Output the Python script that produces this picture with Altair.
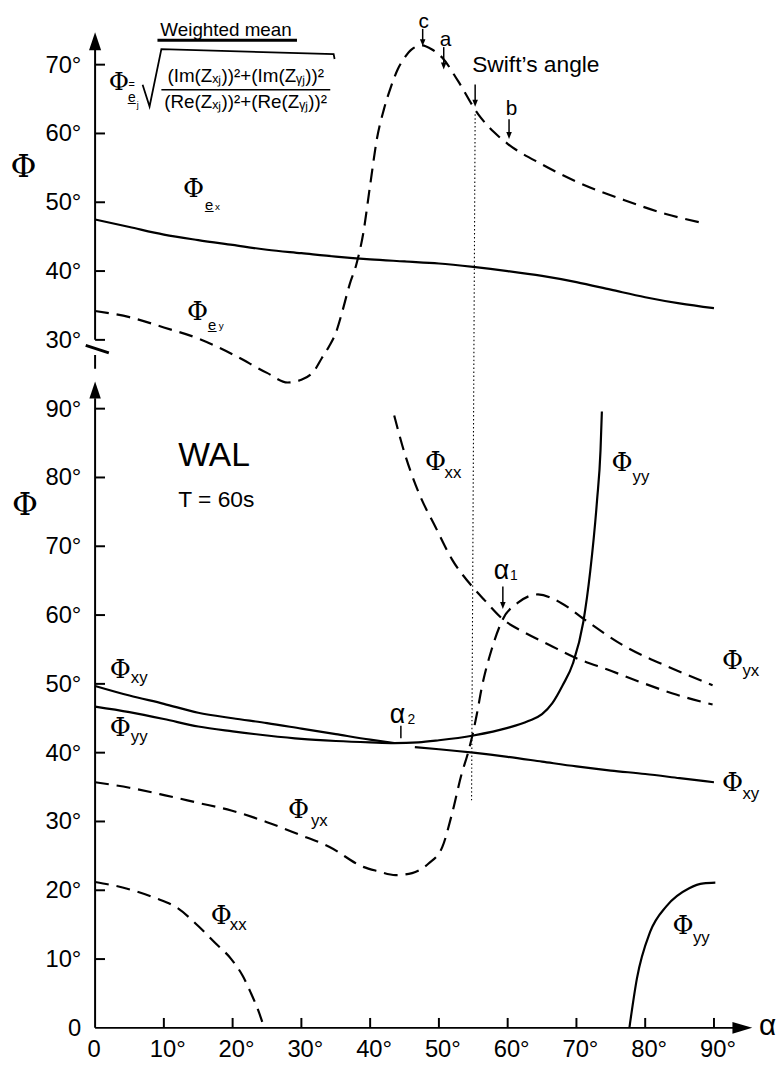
import altair as alt
import pandas as pd

UPPER_SHIFT = 70.0  # upper panel drawn 70 units above the lower one (same degree scale)

# ---------------- curves: alpha (deg) -> Phi (deg) ----------------
# upper panel
PHI_EX_A = [0, 5, 10, 15, 20, 25, 30, 35, 40, 45, 50, 55, 60, 65, 70, 75, 80, 85, 90]
PHI_EX_V = [47.5, 46.4, 45.3, 44.5, 43.8, 43.1, 42.6, 42.1, 41.7, 41.4, 41.1, 40.6,
            40.0, 39.3, 38.4, 37.3, 36.2, 35.3, 34.6]

PHI_EY_A = [0, 5, 10, 15, 20, 25, 28, 30, 32, 33, 34, 35, 36, 37, 38, 39, 40, 41, 42,
            43, 44, 45, 46, 47.5, 49, 50.5, 52.8, 55.7, 58, 60, 65, 70, 77, 83, 88.3]
PHI_EY_V = [34.2, 33.3, 31.8, 30.2, 27.9, 25.2, 23.8, 24.2, 25.7, 27.4, 29.0, 31.0, 34.3,
            38.0, 41.0, 45.5, 52.5, 59.3, 63.5, 66.7, 69.3, 71.0, 72.2, 72.8, 72.2, 71.0,
            67.6, 62.8, 60.2, 58.5, 55.5, 53.0, 50.3, 48.3, 47.0]

# lower panel
PHI_XY_L_A = [0, 5, 10, 15, 20, 25, 30, 35, 40, 43.5]
PHI_XY_L_V = [49.7, 48.3, 47.1, 45.8, 45.0, 44.3, 43.5, 42.7, 41.9, 41.4]

PHI_XY_R_A = [46.5, 50, 55, 60, 65, 70, 75, 80, 85, 90]
PHI_XY_R_V = [40.8, 40.5, 40.0, 39.4, 38.7, 38.0, 37.4, 36.9, 36.3, 35.7]

PHI_YY_A = [0, 5, 10, 15, 20, 25, 30, 35, 40, 43.5, 47, 50, 55, 60, 63, 65, 66.5, 68,
            69.5, 71, 72, 73, 73.5, 73.7]
PHI_YY_V = [46.7, 45.9, 44.9, 43.8, 43.1, 42.5, 42.0, 41.7, 41.5, 41.4, 41.5, 41.8, 42.5,
            43.6, 44.6, 45.6, 47.2, 49.8, 53.0, 59.0, 66.3, 76.7, 83.9, 89.6]

PHI_YY_B_A = [77.7, 78.8, 80.7, 83.1, 86.4, 88.5, 90.2]
PHI_YY_B_V = [0.0, 7.2, 13.9, 17.7, 20.3, 21.0, 21.1]

PHI_XX_T_A = [43.5, 44.9, 47.1, 49.5, 51.9, 54.8, 56.7, 59.3, 62.4, 66, 69.6, 75, 79.2, 84, 89.8]
PHI_XX_T_V = [89.0, 83.9, 77.7, 72.8, 68.1, 64.2, 62.1, 59.4, 57.5, 55.7, 53.9, 51.9, 50.3, 48.6, 47.0]

PHI_YX_A = [0, 5, 10.2, 15, 19.8, 25, 29.4, 34.1, 39, 41, 43.7, 46.1, 48.5, 50.5, 51.9,
            53.3, 54.3, 55.5, 56.2, 57.7, 59.3, 61.5, 64.4, 67.7, 71.1, 76.8, 84, 89.8]
PHI_YX_V = [35.7, 34.9, 33.8, 32.7, 31.6, 29.9, 28.2, 26.3, 23.4, 22.8, 22.2, 22.5, 23.9,
            26.3, 31.1, 36.9, 40.2, 45.5, 49.3, 55.1, 59.4, 61.8, 63.0, 61.8, 59.4, 55.6,
            52.2, 49.8]

PHI_XX_B_A = [0, 4, 8.7, 12, 15, 17.4, 19.8, 21.5, 22.6, 23.7, 24.6]
PHI_XX_B_V = [21.2, 20.4, 18.9, 17.4, 14.8, 12.4, 10.0, 7.5, 5.2, 2.6, 0.0]

SWIFT_ANGLE = 55.0

# ---------------- ticks ----------------
X_TICKS = [0, 10, 20, 30, 40, 50, 60, 70, 80, 90]
X_TICK_LABELS = ["0", "10°", "20°", "30°", "40°", "50°", "60°", "70°", "80°", "90°"]
Y_TICKS_LOWER = [0, 10, 20, 30, 40, 50, 60, 70, 80, 90]
Y_TICK_LABELS_LOWER = ["0", "10°", "20°", "30°", "40°", "50°", "60°", "70°", "80°", "90°"]
Y_TICKS_UPPER = [30, 40, 50, 60, 70]
Y_TICK_LABELS_UPPER = ["30°", "40°", "50°", "60°", "70°"]

NUM = "(Im(Zₓⱼ))²+(Im(Zᵧⱼ))²"
DEN = "(Re(Zₓⱼ))²+(Re(Zᵧⱼ))²"

# ---------------- build tables ----------------
curve_rows = []
def add_curve(name, a_list, v_list, panel, style):
    for a, v in zip(a_list, v_list):
        curve_rows.append({"series": name, "a": a, "v": v, "panel": panel, "style": style})

add_curve("ex", PHI_EX_A, PHI_EX_V, "upper", "solid")
add_curve("ey", PHI_EY_A, PHI_EY_V, "upper", "dashed")
add_curve("xyL", PHI_XY_L_A, PHI_XY_L_V, "lower", "solid")
add_curve("xyR", PHI_XY_R_A, PHI_XY_R_V, "lower", "solid")
add_curve("yy", PHI_YY_A, PHI_YY_V, "lower", "solid")
add_curve("yyB", PHI_YY_B_A, PHI_YY_B_V, "lower", "solid")
add_curve("xxT", PHI_XX_T_A, PHI_XX_T_V, "lower", "dashed")
add_curve("yx", PHI_YX_A, PHI_YX_V, "lower", "dashed")
add_curve("xxB", PHI_XX_B_A, PHI_XX_B_V, "lower", "dashed")
curves = pd.DataFrame(curve_rows)

XS = alt.Scale(domain=[0, 96], nice=False, zero=False)
YS = alt.Scale(domain=[0, 145], nice=False, zero=False)

def xy(xf="x", yf="y"):
    return dict(x=alt.X(f"{xf}:Q", scale=XS, axis=None), y=alt.Y(f"{yf}:Q", scale=YS, axis=None))

base = alt.Chart(curves).transform_calculate(
    y=f"datum.panel == 'upper' ? datum.v + {UPPER_SHIFT} : datum.v"
)
solid = base.transform_filter("datum.style == 'solid'").mark_line(
    color="black", strokeWidth=2.2, interpolate="monotone"
).encode(**xy("a", "y"), detail="series:N")
dashed = base.transform_filter("datum.style == 'dashed'").mark_line(
    color="black", strokeWidth=2.2, interpolate="monotone", strokeDash=[14, 8]
).encode(**xy("a", "y"), detail="series:N")

# axis lines, ticks, annotation strokes
U = UPPER_SHIFT
rules = []
def rule(x, y, x2, y2, w):
    rules.append({"x": x, "y": y, "x2": x2, "y2": y2, "w": w})

rule(0, 0, 93.0, 0, 2)
rule(0, 0, 0, 91.5, 2)
rule(0, 30 + U, 0, 142.2, 2)
rule(0, 95.8, 0, 97.8, 2)
rule(-1.36, 99.2, 2.0, 98.1, 3)
for t in Y_TICKS_LOWER[1:]:
    rule(0, t, 1.44, t, 2)
for t in Y_TICKS_UPPER:
    rule(0, t + U, 1.44, t + U, 2)
for t in X_TICKS[1:]:
    rule(t, 0, t, 1.44, 2)
# small arrows (c, a, Swift, b, alpha1)
ARROWS = [(47.64, 145.2, 143.4), (50.7, 142.55, 140.0), (55.27, 137.1, 134.6),
          (60.2, 132.05, 129.9), (59.3, 64.15, 61.6)]
for ax, y1, y2 in ARROWS:
    rule(ax, y1, ax, y2, 1.5)
rule(44.47, 43.9, 44.47, 42.1, 1.5)           # alpha2 marker
rule(9.07, 143.56, 29.36, 143.56, 3)          # underline of "Weighted mean"
rule(9.64, 136.36, 34.2, 136.36, 1.5)         # fraction bar
rules_df = pd.DataFrame(rules)

rule_layer = alt.Chart(rules_df).mark_rule(color="black", strokeCap="butt").encode(
    **xy(), x2="x2:Q", y2="y2:Q", size=alt.Size("w:Q", scale=None)
)

swift_df = pd.DataFrame([{"x": SWIFT_ANGLE + 0.27, "y": 132.8, "x2": SWIFT_ANGLE - 0.25, "y2": 33.1}])
swift_layer = alt.Chart(swift_df).mark_rule(color="black", strokeWidth=1.1, strokeDash=[1.5, 2.5]).encode(
    **xy(), x2="x2:Q", y2="y2:Q"
)

# radical sign of the formula
rad_df = pd.DataFrame({"x": [6.91, 7.92, 9.64, 34.69, 34.83],
                       "y": [137.08, 133.92, 142.26, 141.54, 140.82]})
rad_layer = alt.Chart(rad_df).mark_line(color="black", strokeWidth=1.8).encode(**xy())

# arrow heads
UP = "M -0.68 1 L 0 -1 L 0.68 1 Z"
RIGHT = "M -1 -0.6 L 1 0 L -1 0.6 Z"
DOWN = "M -0.8 -1 L 0.8 -1 L 0 1 Z"
heads = [{"x": 94.13, "y": 0, "shape": RIGHT, "s": 400},
         {"x": 0, "y": 92.71, "shape": UP, "s": 289},
         {"x": 0, "y": 143.4, "shape": UP, "s": 324}]
for ax, y1, y2 in ARROWS:
    heads.append({"x": ax, "y": y2 - 0.2, "shape": DOWN, "s": 49})
heads_layer = alt.Chart(pd.DataFrame(heads)).mark_point(
    filled=True, color="black", opacity=1, strokeWidth=0
).encode(**xy(), shape=alt.Shape("shape:N", scale=None), size=alt.Size("s:Q", scale=None))

# ---------------- texts ----------------
SANS = "Liberation Sans"
SERIF = "DejaVu Serif"

def text_layer(records, font, align, dx=0, dy=0):
    df = pd.DataFrame(records, columns=["t", "x", "y", "s"])
    return alt.Chart(df).mark_text(font=font, align=align, baseline="middle", color="black",
                                   dx=dx, dy=dy).encode(
        **xy(), text="t:N", size=alt.Size("s:Q", scale=None)
    )

ytick_recs = [(l, -2.0, v, 24) for v, l in zip(Y_TICKS_LOWER, Y_TICK_LABELS_LOWER)]
ytick_recs += [(l, -2.0, v + U, 24) for v, l in zip(Y_TICKS_UPPER, Y_TICK_LABELS_UPPER)]
xtick0 = [(l, v, -3.0, 24) for v, l in zip(X_TICKS, X_TICK_LABELS) if l == "0"]
xtickd = [(l, v, -3.0, 24) for v, l in zip(X_TICKS, X_TICK_LABELS) if l != "0"]

sans_center = [
    ("Weighted mean", 19.04, 145.0, 19),
    ("c", 47.78, 146.2, 21),
    ("a", 50.95, 143.6, 21),
    ("b", 60.55, 133.6, 21),
    (NUM, 21.9, 138.38, 19),
    (DEN, 21.9, 134.57, 19),
    ("=", 5.33, 137.08, 11),
    ("e̲", 5.33, 135.21, 14),
    ("j", 6.19, 134.2, 9),
    ("α", 59.11, 66.36, 27),
    ("1", 60.9, 65.7, 14),
    ("α", 43.97, 45.53, 27),
    ("2", 46.0, 44.8, 14),
    ("α", 97.8, 0.3, 30),
]
SUB_SHIFT = 0.3
sans_left = [
    ("WAL", 12.09, 83.14, 34),
    ("T = 60s", 12.09, 76.67, 23),
    ("Swift’s angle", 54.84, 139.96, 23),
    ("e̲", 15.69 + SUB_SHIFT, 119.61, 15), ("x", 17.13 + SUB_SHIFT, 119.3, 10),
    ("e̲", 16.12 + SUB_SHIFT, 102.20, 15), ("y", 17.70 + SUB_SHIFT, 102.0, 10),
    ("xx", 50.52 + SUB_SHIFT, 80.62, 17),
    ("yy", 77.86 + SUB_SHIFT, 80.12, 17),
    ("yx", 93.84 + SUB_SHIFT, 51.86, 17),
    ("xy", 4.89 + SUB_SHIFT, 50.78, 17),
    ("yy", 4.89 + SUB_SHIFT, 42.22, 17),
    ("yx", 31.09 + SUB_SHIFT, 30.06, 17),
    ("xx", 19.29 + SUB_SHIFT, 14.96, 17),
    ("xy", 93.84 + SUB_SHIFT, 34.02, 17),
    ("yy", 86.64 + SUB_SHIFT, 13.02, 17),
]
phi_center = [
    ("Φ", -10.4, 125.1, 32),
    ("Φ", -10.2, 75.95, 32),
    ("Φ", 3.45, 137.51, 25),
    ("Φ", 14.32, 121.91, 26),
    ("Φ", 14.90, 104.07, 26),
    ("Φ", 49.51, 82.28, 26),
    ("Φ", 76.64, 82.06, 26),
    ("Φ", 92.69, 53.29, 26),
    ("Φ", 3.67, 52.0, 26),
    ("Φ", 3.67, 43.58, 26),
    ("Φ", 29.58, 31.72, 26),
    ("Φ", 18.35, 16.25, 26),
    ("Φ", 92.69, 35.60, 26),
    ("Φ", 85.49, 14.74, 26),
]

layers = [
    rule_layer, swift_layer, rad_layer, solid, dashed, heads_layer,
    text_layer(ytick_recs, SANS, "right", dy=1),
    text_layer(xtick0, SANS, "center", dx=-1, dy=2),
    text_layer(xtickd, SANS, "center", dx=4, dy=2),
    text_layer(sans_center, SANS, "center"),
    text_layer(sans_left, SANS, "left"),
    text_layer(phi_center, SERIF, "center"),
]

chart = alt.layer(*layers).properties(
    width=667, height=1008,
    autosize=alt.AutoSizeParams(type="none"),
    padding={"left": 88, "top": 17, "right": 21, "bottom": 30},
    background="white",
).configure_view(stroke=None)

chart.save("out.html", embed_options={"renderer": "svg", "actions": False})
